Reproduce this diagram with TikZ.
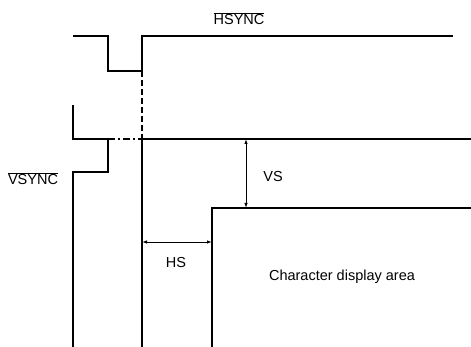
\documentclass[tikz,border=0pt]{standalone}
\usepackage{fontspec}
\setmainfont{Liberation Sans}
\usetikzlibrary{arrows.meta}
\begin{document}
\begin{tikzpicture}[x=1pt,y=-1pt,
  wave/.style={line width=1.8pt,line join=miter},
  dashline/.style={line width=1.4pt,dash pattern=on 6pt off 3pt},
  dashdotline/.style={line width=1.6pt,dash pattern=on 7pt off 3pt on 2pt off 3pt},
  dim/.style={line width=0.9pt,{Latex[length=5pt,width=3.5pt]}-{Latex[length=5pt,width=3.5pt]}},
  lbl/.style={font=\fontsize{14.5}{16}\selectfont,inner sep=0pt}]
\useasboundingbox (0,0) rectangle (471,347);
% HSYNC waveform
\coordinate (h0) at (73,36);
\coordinate (h1) at (108,36);
\coordinate (h2) at (108,71);
\coordinate (h3) at (142,71);
\coordinate (h4) at (142,36);
\coordinate (h5) at (453,36);
\draw[wave] (h0) -- (h1) -- (h2) -- (h3) -- (h4) -- (h5);
% VSYNC waveform
\coordinate (v0) at (73,105);
\coordinate (v1) at (73,139);
\coordinate (v2) at (108,139);
\coordinate (v3) at (108,172);
\coordinate (v4) at (73,172);
\coordinate (v5) at (73,347);
\draw[wave] (v0) -- (v1) -- (v2) -- (v3) -- (v4) -- (v5);
% reference lines
\coordinate (c) at (142,139);
\coordinate (cb) at (142,347);
\coordinate (r) at (471,139);
\draw[dashline] (h3) -- (c);
\draw[dashdotline] (v2) -- (c);
\draw[wave] (c) -- (r);
\draw[wave] (c) -- (cb);
% display area
\coordinate (d0) at (471,208);
\coordinate (d1) at (212,208);
\coordinate (d2) at (212,347);
\draw[wave] (d0) -- (d1) -- (d2);
% dimensions
\coordinate (vsA) at (246,139);
\coordinate (vsB) at (246,208);
\draw[dim] (vsA) -- (vsB);
\coordinate (hsA) at (142,242);
\coordinate (hsB) at (212,242);
\draw[dim] (hsA) -- (hsB);
% labels
\node[lbl] (hsync) at (239,19) {$\overline{\mbox{HSYNC}}$};
\node[lbl] (vsync) at (33,179) {$\overline{\mbox{VSYNC}}$};
\node[lbl] (vs) at (273,177) {VS};
\node[lbl] (hs) at (176,263) {HS};
\node[lbl] (area) at (342,277) {Character display area};
\end{tikzpicture}
\end{document}
